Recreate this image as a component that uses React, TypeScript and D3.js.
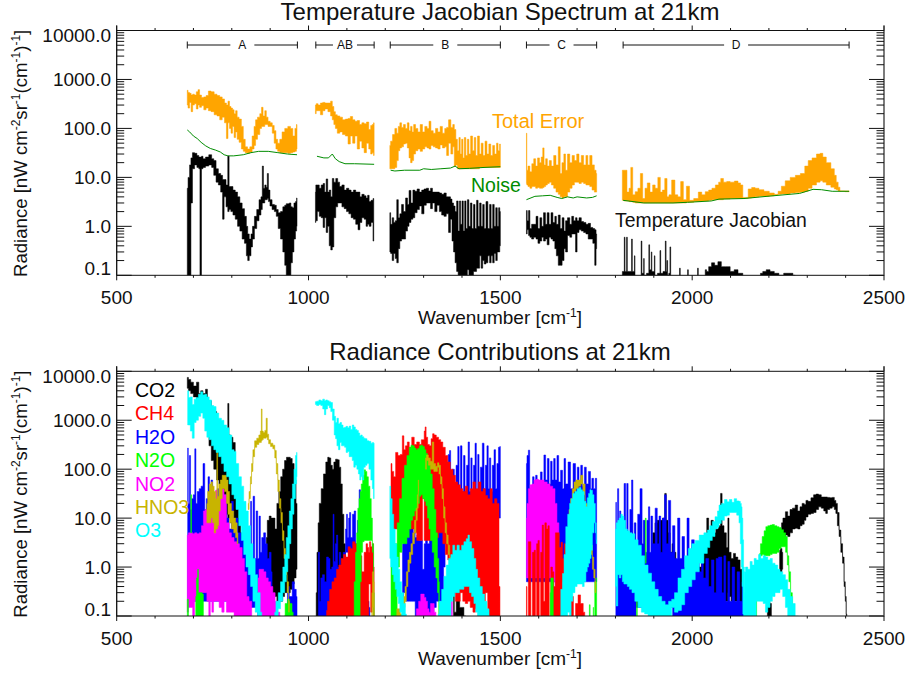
import React from 'react';
import * as d3 from 'd3';

type Row = [number, number, number]; // wavenumber, lower envelope, upper envelope

const xMajor = [500, 1000, 1500, 2000, 2500];
const xMinor = [600, 700, 800, 900, 1100, 1200, 1300, 1400, 1600, 1700, 1800, 1900, 2100, 2200, 2300, 2400];
const yLabels = [0.1, 1, 10, 100, 1000, 10000];
const ranges: [string, number, number][] = [['A', 684, 971], ['AB', 1019, 1171], ['B', 1213, 1500], ['C', 1568, 1751], ['D', 1820, 2409]];

// top panel
const errA: Row[] = [[684,300,600],[688,260,540],[692,340,520],[696,220,480],[700,300,500],[705,320,480],[710,250,560],[714,300,620],[718,270,480],[724,290,430],[730,240,440],[736,260,470],[742,230,580],[750,220,560],[758,190,500],[765,180,470],[772,150,440],[778,170,400],[784,130,330],[788,62,300],[792,130,360],[796,100,280],[800,80,260],[804,110,240],[808,65,200],[812,85,230],[816,60,170],[822,52,155],[828,38,110],[832,34,60],[838,32,42],[844,31,38],[850,33,42],[856,38,70],[860,45,110],[864,60,150],[870,75,170],[876,100,200],[879,110,270],[884,110,180],[888,120,230],[892,120,170],[897,110,140],[903,110,130],[908,80,115],[913,50,90],[917,38,60],[922,34,50],[928,32,60],[934,32,85],[942,32,100],[950,31,110],[956,32,100],[962,33,70],[967,34,100],[970,38,120]];
const errAB: Row[] = [[1018,200,300],[1022,230,320],[1028,230,300],[1034,190,330],[1040,230,340],[1046,250,330],[1055,220,330],[1060,180,360],[1064,150,280],[1068,120,220],[1072,100,190],[1078,80,180],[1085,85,170],[1092,75,150],[1100,70,155],[1106,48,160],[1112,70,175],[1118,50,150],[1124,70,140],[1130,38,145],[1136,55,120],[1142,40,130],[1148,32,125],[1154,50,135],[1160,38,95],[1164,30,115],[1168,32,120],[1171,28,130]];
const errB: Row[] = [[1212,15,45],[1216,15,55],[1222,15,75],[1228,16,100],[1232,22,80],[1236,35,110],[1240,40,130],[1245,42,105],[1250,48,120],[1255,50,100],[1260,40,130],[1264,25,90],[1268,20,110],[1272,22,85],[1276,30,120],[1282,35,100],[1288,38,85],[1294,34,120],[1300,38,85],[1306,42,110],[1312,40,100],[1316,38,140],[1322,45,90],[1328,42,80],[1334,40,100],[1340,38,85],[1346,46,110],[1352,40,80],[1358,42,100],[1362,28,105],[1368,50,150],[1374,30,105],[1378,42,120],[1382,17,95],[1386,18,60],[1390,15,35],[1394,15,65],[1397,15,30],[1401,15,60],[1404,15,25],[1408,15,65],[1412,15,28],[1416,15,60],[1420,15,30],[1425,15,70],[1430,15,35],[1434,15,65],[1438,15,28],[1443,15,70],[1448,16,30],[1452,16,50],[1458,16,28],[1462,16,55],[1468,16,30],[1472,16,48],[1478,16,28],[1482,16,45],[1488,16,30],[1492,16,50],[1496,16,35],[1500,16,48]];
const errC: Row[] = [[1568,7.5,80],[1570,7,14],[1574,6.5,17],[1580,6,13],[1584,6.5,19],[1590,6.5,24],[1594,6,17],[1600,6.2,25],[1604,6,20],[1609,6,26],[1612,6.2,40],[1616,6.5,18],[1620,7,24],[1625,7.5,17],[1630,8,22],[1636,7,17],[1642,6,28],[1648,5,18],[1654,4.5,42],[1658,4,12],[1663,3.8,20],[1668,4,30],[1672,4,14],[1678,5,30],[1684,6,20],[1690,7,28],[1696,8,22],[1702,8,30],[1708,7.5,20],[1714,8,28],[1720,7.5,18],[1726,7,28],[1730,7,18],[1736,6.5,28],[1742,5.5,18],[1748,5,14],[1751,5,12]];
const errD: Row[] = [[1818,3.4,14],[1827,3.3,14],[1833,3.3,5],[1838,3.2,6],[1842,3.2,16],[1848,3.1,4.4],[1855,3,5.1],[1862,3,6],[1868,3,12],[1874,3,3.7],[1880,3,6],[1886,3,7.7],[1894,3,5],[1900,3,7],[1907,3,6],[1914,3,10],[1920,3,5],[1925,3,5.5],[1932,3,9.5],[1937,3,4],[1942,3,4.4],[1951,3,8.8],[1959,3,4.4],[1966,3,4],[1974,3,8.2],[1980,3,3.5],[1990,3.1,6.6],[1996,3.1,3.4],[2012,3.2,3.7],[2020,3.2,5],[2030,3.3,4.4],[2038,3.3,5.1],[2048,3.4,5.5],[2055,3.5,6],[2066,3.5,7],[2072,3.5,8],[2077,3.5,9.5],[2086,3.6,8],[2094,3.6,8.2],[2104,3.7,8],[2116,3.7,8.4],[2123,3.7,7.7],[2129,3.7,7],[2135,3.7,3.9],[2142,3.7,3.9],[2150,3.8,5.8],[2160,3.9,6.2],[2168,4,6],[2180,4.1,5.6],[2194,4.1,5.2],[2208,4.2,4.8],[2220,4.4,4.5],[2228,4.5,5.2],[2237,4.6,6.6],[2248,4.6,8.5],[2263,4.8,10],[2275,4.9,11],[2289,5,12],[2298,5.2,17],[2307,6,22],[2318,7,25],[2330,8,30],[2337,8.5,31],[2344,8,26],[2355,7,20],[2368,6.3,15],[2373,5.8,11],[2378,5.6,8],[2383,5.3,6.3],[2387,5.2,5.3],[2409,5.1,5.3]];
const totalError = [errA, errAB, errB, errC, errD];

const noiseA: [number, number][] = [[684,93],[690,85],[700,70],[710,62],[720,52],[732,44],[744,39],[758,36],[770,33],[780,29],[790,27.5],[805,27.5],[830,29],[850,32],[870,34],[895,34],[920,32],[945,30],[970,29]];
const noiseAB: [number, number][] = [[1022,27],[1040,25],[1052,25],[1062,30],[1070,24],[1080,21],[1095,19],[1120,19],[1171,18.5]];
const noiseB: [number, number][] = [[1214,14],[1225,13.5],[1250,14],[1290,14],[1300,15],[1320,14.5],[1345,15],[1370,15.5],[1382,17],[1392,15],[1420,15.3],[1460,16],[1500,16.5]];
const noiseC: [number, number][] = [[1568,3.5],[1590,4.1],[1610,4.2],[1630,4.3],[1648,3.9],[1660,3.7],[1675,4],[1690,3.8],[1700,4],[1725,3.8],[1740,3.9],[1751,4.2]];
const noiseD: [number, number][] = [[1820,3.4],[1874,3],[1950,3],[1988,3.1],[2050,3.3],[2070,3.6],[2135,3.7],[2195,4.1],[2280,4.7],[2315,5.7],[2337,5.6],[2365,5.2],[2409,5.2]];
const noise = [noiseA, noiseAB, noiseB, noiseC, noiseD];

const jacA: Row[] = [[684,0.07,6],[688,0.07,10],[692,0.07,18],[695,3,25],[700,15,32],[706,18,31],[712,16,28],[716,15,26],[718,0.07,26],[720,0.07,26],[722,15,27],[728,16,24],[735,17,26],[745,18,29],[750,16,24],[756,11,22],[762,8,15],[768,7,12],[774,5,11],[778,1.4,9],[782,4,9],[788,2.5,7],[791,2,27],[795,2.2,6.5],[800,2,6.5],[806,1.7,5.5],[812,1.4,5],[818,1,4],[824,0.8,3],[830,0.55,2.3],[836,0.45,1.6],[840,0.25,1],[843,0.2,0.7],[848,0.25,0.55],[852,0.38,0.7],[856,0.55,1],[862,0.9,1.6],[868,1.3,2.2],[874,1.7,3.5],[878,2.2,4],[881,3,17],[884,3,6],[888,3.5,7],[891,3.5,6.3],[894,3.7,12],[897,3.2,5.5],[902,2.6,3.5],[908,2.2,2.8],[914,2,2.7],[918,1.6,2.2],[924,0.9,1.9],[930,0.55,2],[936,0.3,2.5],[940,0.16,2.7],[944,0.09,2.9],[948,0.08,2.9],[952,0.1,3],[956,0.18,2.5],[960,0.3,2.4],[964,0.55,3],[968,0.8,3.2],[970,1,3.8]];
const jacAB: Row[] = [[1018,1.2,5],[1020,1.3,7],[1026,2,7],[1030,1.6,6],[1036,1.5,7],[1040,0.95,7.5],[1044,1.5,5],[1048,0.75,9.3],[1052,1,5],[1056,0.4,5.5],[1060,0.33,4],[1064,0.38,9.5],[1068,1.5,8],[1074,2.5,9.5],[1078,3,8],[1084,3,6.5],[1090,2.5,7],[1096,2.3,5.5],[1102,2,6],[1108,1.8,5.5],[1114,1.5,5],[1120,1.4,5.5],[1126,1.1,5],[1132,0.85,5],[1136,1.2,4],[1142,1.5,4.5],[1148,1.4,4.2],[1152,1,3.8],[1156,1.1,4.3],[1160,1,3.2],[1166,1.2,3.4],[1170,0.5,3.7]];
const jacB: Row[] = [[1212,0.3,1.9],[1216,0.28,1.1],[1220,0.2,1.5],[1224,0.28,1.2],[1228,0.22,1.3],[1232,0.18,3.5],[1236,0.35,1.5],[1240,0.5,1.8],[1245,0.55,2.8],[1250,0.55,2],[1256,0.8,3.8],[1260,1,2.8],[1264,1.2,5.4],[1270,1.4,3],[1274,1.5,5.5],[1280,1.9,5.2],[1286,2.2,5.8],[1292,2.6,5],[1298,1.8,5.5],[1304,2.7,5.8],[1310,3,6],[1316,3,5.3],[1320,2.3,6],[1326,3,5],[1332,2,5],[1338,2.7,5],[1344,2,4.8],[1350,1.7,4.5],[1356,1.6,4.8],[1362,1.8,4],[1368,0.75,4],[1372,1.4,3.6],[1376,0.5,3],[1380,0.3,2.6],[1384,0.18,2],[1388,0.12,3.3],[1392,0.1,0.8],[1395,0.09,3.3],[1398,0.09,1.1],[1402,0.1,3.3],[1405,0.08,0.8],[1409,0.09,3.3],[1412,0.09,0.9],[1416,0.13,3.5],[1420,0.1,1],[1424,0.08,3],[1428,0.09,0.9],[1432,0.12,2.8],[1436,0.12,0.9],[1440,0.14,3.4],[1444,0.14,1],[1448,0.25,3],[1452,0.14,1],[1456,0.2,2.8],[1460,0.17,0.9],[1465,0.18,3.2],[1470,0.25,0.9],[1474,0.18,2.8],[1478,0.25,0.9],[1482,0.18,2.8],[1486,0.28,1],[1490,0.2,2.4],[1494,0.3,1],[1497,0.3,2.4],[1500,0.4,2]];
const jacC: Row[] = [[1568,0.7,2.1],[1572,0.85,1.3],[1575,0.65,2.1],[1579,0.6,0.9],[1584,0.55,1.1],[1590,0.6,1.1],[1596,0.55,1.6],[1600,0.45,0.9],[1606,0.5,1.5],[1610,0.6,1],[1615,0.5,1.9],[1620,0.55,1.1],[1624,0.42,1.9],[1630,0.6,1.1],[1634,0.55,1.9],[1640,0.5,1.2],[1644,0.35,1.6],[1648,0.25,1.1],[1654,0.16,1.7],[1658,0.16,0.9],[1664,0.2,1.5],[1668,0.35,0.8],[1672,0.3,1.3],[1678,0.65,1.5],[1684,0.6,1.1],[1688,0.7,1.6],[1694,0.7,1.3],[1698,0.3,1.5],[1702,0.75,1.3],[1708,0.85,1.5],[1714,0.8,1.25],[1720,0.75,1.2],[1726,0.7,1.1],[1732,0.55,1.15],[1738,0.55,0.95],[1744,0.45,0.9],[1748,0.16,0.85],[1751,0.35,0.7]];
const jacD: Row[] = [[1818,0.07,0.12],[1822,0.07,0.12],[1824,0.07,0.6],[1826,0.07,0.12],[1828,0.07,0.12],[1830,0.07,0.6],[1832,0.07,0.12],[1841,0.07,0.12],[1843,0.07,0.55],[1845,0.07,0.12],[1849,0.07,0.12],[1850,0.07,0.25],[1852,0.07,0.07],[1866,0.07,0.09],[1868,0.07,0.5],[1870,0.07,0.11],[1873,0.07,0.11],[1874,0.07,0.22],[1876,0.07,0.1],[1886,0.07,0.11],[1888,0.07,0.42],[1890,0.07,0.13],[1893,0.07,0.13],[1894,0.07,0.3],[1896,0.07,0.12],[1901,0.07,0.12],[1902,0.07,0.25],[1904,0.07,0.1],[1915,0.07,0.11],[1917,0.07,0.32],[1919,0.07,0.11],[1929,0.07,0.12],[1931,0.07,0.5],[1933,0.07,0.12],[1935,0.07,0.2],[1937,0.07,0.1],[1941,0.07,0.11],[1943,0.07,0.38],[1945,0.07,0.07],[1966,0.07,0.07],[1968,0.07,0.14],[1970,0.07,0.07],[1987,0.07,0.07],[1989,0.07,0.13],[1991,0.07,0.07],[2013,0.07,0.07],[2015,0.07,0.14],[2017,0.07,0.07],[2033,0.07,0.07],[2035,0.07,0.13],[2040,0.07,0.12],[2046,0.07,0.15],[2055,0.07,0.18],[2062,0.07,0.16],[2072,0.07,0.19],[2080,0.07,0.15],[2094,0.07,0.15],[2104,0.07,0.12],[2115,0.07,0.13],[2124,0.07,0.11],[2131,0.07,0.11],[2133,0.07,0.07],[2176,0.07,0.07],[2180,0.07,0.11],[2188,0.07,0.12],[2198,0.07,0.13],[2208,0.07,0.12],[2220,0.07,0.11],[2232,0.07,0.1],[2245,0.07,0.11],[2258,0.07,0.11],[2267,0.07,0.1],[2270,0.07,0.07]];
const jacobian = [jacA, jacAB, jacB, jacC, jacD];

// bottom panel
const co2A: Row[] = [[684,4500,7500],[690,4000,6800],[696,3500,6000],[704,3000,5000],[712,2400,6000],[716,2400,3500],[722,1800,4000],[728,1500,3500],[735,1200,4300],[738,800,2500],[743,300,2500],[750,150,1800],[756,100,1500],[765,60,1000],[768,50,900],[772,40,900],[780,30,700],[788,12,600],[791,10,2200],[794,10,500],[800,8,450],[806,6,350],[812,3,100],[816,2,30],[820,1,10],[826,0.5,5]];
const co2A2: Row[] = [[890,0.3,4],[895,0.25,9],[900,0.3,11],[905,0.25,10],[910,0.3,10],[915,0.25,6],[920,0.2,20],[925,0.2,35],[930,0.2,70],[935,0.25,100],[940,0.3,150],[945,0.3,175],[950,0.3,175],[955,0.35,165],[960,0.45,130],[965,0.6,60],[970,0.9,20]];
const co2AB: Row[] = [[1020,0.1,0.3],[1024,0.1,2],[1026,0.1,8],[1030,0.1,20],[1036,0.12,40],[1042,0.15,80],[1048,0.2,140],[1052,0.25,175],[1056,0.3,170],[1060,0.4,120],[1064,0.5,100],[1068,0.6,140],[1073,0.8,160],[1078,0.8,155],[1082,0.8,110],[1086,0.7,50],[1090,0.8,12],[1094,0.8,3],[1098,0.7,1.5],[1100,0.7,1]];
const co2B: Row[] = [[1378,0.07,0.3],[1382,0.07,0.12],[1388,0.07,0.3],[1400,0.07,0.15],[1410,0.07,0.1]];
const co2D1: Row[] = [[1894,0.1,3],[1900,0.15,5],[1906,0.2,8],[1912,0.25,9],[1920,0.3,9],[1926,0.3,10],[1931,0.3,32],[1934,0.3,9],[1940,0.3,5],[1945,0.3,2],[1950,0.3,3],[1955,0.3,2],[1960,0.2,0.9],[1965,0.2,1.2]];
const co2D2: Row[] = [[1990,0.1,0.3],[2000,0.1,0.5],[2020,0.1,1],[2028,0.15,2],[2036,0.2,4],[2040,0.2,10],[2046,0.2,4],[2052,0.2,9],[2058,0.2,5],[2065,0.2,6],[2072,0.2,7],[2076,0.2,32],[2080,0.2,7],[2086,0.2,5],[2092,0.2,2.5],[2094,0.3,10],[2098,0.25,2],[2105,0.2,1.5],[2110,0.2,1.9],[2116,0.2,1.6],[2122,0.2,1.4],[2128,0.15,0.9],[2134,0.1,0.5]];
const co2D3: Row[] = [[2196,0.07,0.2],[2200,0.07,0.2],[2205,0.07,0.18],[2208,0.07,0.1]];
const co2D4: Row[] = [[2228,0.8,2.2],[2232,0.8,2.4],[2236,0.9,2]];
const co2D5: Row[] = [[2233,5,8],[2240,3.8,10],[2246,4.5,13.5],[2252,4.2,11],[2258,5,15],[2265,6,16],[2272,6.2,18.5],[2278,6,14],[2284,7,17],[2289,7.5,20],[2295,9,19],[2298,10.6,23],[2306,12,22],[2313,12.5,26],[2320,13,30],[2326,15,31],[2333,17,30],[2340,16,27],[2346,14,27],[2350,12.5,27],[2355,15,26.5],[2362,16,26],[2368,17,26.5],[2373,15,23],[2376,12.5,20],[2381,7,13],[2385,4.2,5.7],[2390,2,3],[2394,1.2,1.6],[2398,0.4,0.5],[2400,0.2,0.25],[2403,0.09,0.11]];

const ch4AB: Row[] = [[1047,0.07,0.13],[1052,0.07,0.2],[1058,0.07,0.35],[1064,0.07,0.5],[1070,0.07,0.6],[1076,0.07,0.9],[1082,0.07,1.1],[1088,0.07,1.5],[1094,0.07,1.8],[1100,0.07,1.6],[1106,0.07,2.6],[1112,0.07,2.4],[1118,0.07,3.3],[1124,0.07,3],[1130,0.07,3.5],[1136,0.07,1.7],[1142,0.07,0.8],[1148,0.07,2],[1152,0.1,3],[1156,0.1,2.5],[1158,0.45,2],[1160,0.45,3.3],[1164,0.12,2.6],[1168,0.2,3],[1171,0.1,1]];
const ch4B: Row[] = [[1215,6,130],[1220,6,90],[1224,6,70],[1230,6,220],[1236,6,190],[1242,6,200],[1247,6,480],[1250,6,250],[1255,6,300],[1260,6,360],[1265,6,280],[1273,6,450],[1278,5,320],[1286,3.5,360],[1292,3.5,320],[1296,3.5,400],[1298,25,400],[1300,25,400],[1303,3.5,600],[1305,3.5,730],[1308,3.5,450],[1313,3.5,320],[1317,3.5,300],[1322,3.5,420],[1325,3.5,530],[1330,4,500],[1336,4,450],[1342,5,400],[1347,5,360],[1353,3,280],[1360,1.8,190],[1366,1.4,140],[1373,0.6,100],[1380,0.3,75],[1386,0.2,55],[1392,0.2,48],[1399,0.3,40],[1405,0.2,35],[1412,0.18,45],[1418,0.2,30],[1425,0.15,40],[1432,0.12,55],[1438,0.14,40],[1447,0.1,55],[1452,0.12,35],[1458,0.2,40],[1464,0.3,29],[1470,0.1,25],[1476,0.09,40],[1482,0.07,20],[1488,0.07,25],[1494,0.07,20],[1499,0.07,0.4]];
const ch4C: Row[] = [[1568,0.07,0.4],[1571,0.07,0.07],[1575,0.07,3.3],[1578,0.07,3.3],[1581,0.07,0.07],[1586,0.07,2],[1590,0.07,2.2],[1593,0.07,0.07],[1596,0.07,3],[1600,0.07,3.5],[1603,0.07,0.07],[1607,0.07,2],[1611,0.07,7.2],[1614,0.07,0.2],[1618,0.07,8],[1622,0.07,6],[1626,0.07,7],[1629,0.07,0.07],[1634,0.07,1],[1638,0.07,0.8],[1641,0.07,0.4],[1646,0.07,5],[1651,0.07,5],[1656,0.07,2.5],[1660,0.07,3.2],[1664,0.5,1.5],[1668,0.6,3]];
const ch4C2: Row[] = [[1677,0.07,0.1],[1688,0.07,0.25],[1693,0.07,0.08],[1699,0.07,0.18],[1706,0.07,0.27],[1712,0.07,0.18],[1720,0.07,0.12]];

const h2oA: Row[] = [[685,0.2,270],[688,0.2,20],[691,0.2,190],[694,0.2,15],[697,0.2,25],[702,0.2,30],[705,0.2,260],[708,0.2,20],[712,0.2,35],[718,0.2,40],[722,0.2,45],[728,0.2,130],[731,0.2,15],[736,0.2,25],[740,0.2,70],[744,0.2,12],[748,0.2,60],[752,0.2,10],[756,0.2,12],[760,0.2,20],[764,0.2,40],[768,0.2,12],[772,0.2,45],[776,0.2,10],[780,0.2,15],[784,0.2,30],[790,0.2,10],[796,0.2,6],[802,0.2,22],[806,0.2,8],[812,0.2,10],[820,0.2,5],[830,0.2,4],[848,0.15,1],[850,0.15,22],[853,0.15,1],[858,0.15,28],[861,0.15,1.5],[866,0.15,14],[869,0.1,1.5],[873,0.1,11],[876,0.1,2],[880,0.1,4],[886,0.1,5],[890,0.07,3],[895,0.07,1.5],[900,0.07,2],[905,0.07,0.8]];
const h2oA2: Row[] = [[945,0.07,0.4],[955,0.07,0.25],[960,0.07,0.5],[966,0.07,0.35],[970,0.07,0.25]];
const h2oAB: Row[] = [[1024,0.07,0.1],[1027,0.07,2],[1030,0.07,0.2],[1034,0.07,0.6],[1039,0.07,0.7],[1044,0.07,0.5],[1050,0.07,1.6],[1054,0.07,1.5],[1058,0.07,0.9],[1063,0.3,1],[1065,0.3,12],[1068,0.3,1.3],[1072,0.3,3],[1074,0.3,4.5],[1078,0.3,1],[1082,0.5,2],[1086,0.7,1],[1095,1,2],[1098,2,6],[1100,2,12],[1103,2,4],[1106,2,10],[1108,2,13],[1112,2,4],[1117,2,12],[1121,2,14],[1125,2,3],[1130,3,9],[1134,3,38],[1137,3,10]];
const h2oAB2: Row[] = [[1152,0.07,0.15],[1155,0.07,0.2],[1160,0.07,0.15]];
const h2oB: Row[] = [[1245,0.2,3],[1250,0.3,5],[1256,0.2,6],[1260,0.2,6.2],[1266,0.2,8],[1270,0.2,7],[1276,0.2,5],[1280,0.1,4],[1285,0.1,4.5],[1290,0.1,3.5],[1296,0.1,3.5],[1298,0.1,0.9],[1301,0.1,0.9],[1302,0.1,3],[1308,0.1,4],[1312,0.1,3],[1318,0.1,4],[1324,0.12,4],[1330,0.15,7],[1336,0.2,9],[1340,0.2,8],[1346,0.2,12],[1350,0.3,20],[1354,1,45],[1358,3,150],[1362,3,40],[1366,5,200],[1369,5,240],[1372,8,40],[1378,10,100],[1382,10,35],[1387,10,120],[1391,10,290],[1394,10,35],[1398,10,300],[1402,10,35],[1406,10,190],[1410,10,35],[1414,10,120],[1418,10,360],[1421,10,35],[1425,10,170],[1428,10,35],[1432,10,120],[1436,10,340],[1439,10,35],[1443,10,200],[1446,10,35],[1450,10,110],[1456,10,340],[1459,10,40],[1463,10,120],[1467,10,300],[1470,10,40],[1473,10,170],[1477,10,35],[1481,10,120],[1486,10,250],[1489,10,40],[1493,10,130],[1497,10,280],[1500,10,290]];
const h2oC: Row[] = [[1568,0.5,130],[1571,0.5,190],[1575,0.5,245],[1578,0.5,40],[1582,0.5,30],[1586,0.5,70],[1590,0.5,40],[1594,0.5,75],[1598,0.5,40],[1602,0.5,45],[1607,0.5,88],[1611,0.5,50],[1616,0.5,195],[1620,0.5,60],[1625,0.5,165],[1629,0.5,50],[1633,0.5,145],[1637,0.5,60],[1641,0.5,165],[1645,0.5,60],[1650,0.5,190],[1654,0.5,55],[1660,0.5,95],[1664,0.5,40],[1668,0.5,165],[1672,0.5,50],[1681,0.5,140],[1685,0.5,40],[1694,0.5,130],[1698,0.5,45],[1703,0.5,110],[1707,0.5,50],[1712,0.5,120],[1716,0.5,45],[1722,0.5,110],[1726,0.5,50],[1733,0.5,90],[1737,0.5,40],[1740,0.5,65],[1746,0.5,40],[1749,0.5,65],[1751,0.5,65]];
const h2oD: Row[] = [[1801,0.1,21],[1804,0.1,6],[1807,0.1,40],[1810,0.1,5],[1812,0.1,14],[1816,0.1,4],[1820,0.1,8],[1825,0.1,51],[1828,0.1,4],[1831,0.1,51],[1835,0.1,4],[1840,0.1,15],[1844,0.1,60],[1847,0.1,4],[1851,0.1,8],[1856,0.15,3],[1860,0.15,12],[1868,0.15,40],[1871,0.15,3],[1874,0.2,9],[1880,0.2,2],[1884,0.2,9],[1888,0.2,17],[1891,0.2,2],[1894,0.2,11],[1900,0.2,3],[1907,0.15,16],[1911,0.15,3],[1916,0.15,11],[1920,0.15,2],[1925,0.15,10],[1931,0.15,30],[1934,0.15,3],[1942,0.15,23],[1946,0.15,2],[1952,0.1,7],[1958,0.1,1.5],[1966,0.1,10],[1970,0.1,1.5],[1977,0.1,4.2],[1983,0.1,1],[1990,0.1,10],[1994,0.1,1],[2003,0.1,3.6],[2008,0.07,0.8],[2015,0.07,2],[2022,0.07,0.8],[2027,0.07,4.2],[2031,0.07,0.6],[2040,0.07,1.5],[2046,0.07,0.4],[2054,0.07,1.4],[2060,0.07,0.3],[2065,0.07,1.5],[2072,0.07,1.6],[2075,0.07,1.6],[2080,0.07,0.3],[2085,0.07,1.7],[2090,0.07,0.2],[2096,0.07,1.3],[2100,0.07,0.2],[2108,0.07,1],[2114,0.07,0.2],[2120,0.07,0.8],[2128,0.07,0.2],[2132,0.07,0.5],[2135,0.07,0.2]];

const n2oA: Row[] = [[684,0.07,0.22],[687,0.07,0.22]];
const n2oA2: Row[] = [[693,5,30],[695,5,30]];
const n2oA3: Row[] = [[706,0.07,0.25],[710,0.07,0.6],[712,0.07,0.9],[714,0.07,0.3],[720,0.07,0.3],[726,0.07,0.28]];
const n2oA4: Row[] = [[936,0.07,0.1],[942,0.07,0.18],[948,0.07,0.22],[954,0.07,0.18],[960,0.07,0.12]];
const n2oAB: Row[] = [[1117,0.07,0.1],[1121,0.07,0.5],[1124,0.07,2],[1127,0.07,5],[1130,0.07,16],[1133,0.07,25],[1136,0.5,35],[1139,2,50],[1143,3.3,75],[1147,3.5,97],[1150,3.5,90],[1154,3.5,70],[1158,3.5,45],[1162,3.5,25],[1165,3.5,10],[1168,3,2],[1171,0.1,0.3]];
const n2oB: Row[] = [[1215,0.07,1],[1222,0.07,1.5],[1228,0.07,3],[1234,1,8],[1240,2,25],[1247,3,65],[1253,3,120],[1260,4,190],[1265,6,280],[1269,9,310],[1274,11,300],[1278,14,270],[1282,16,250],[1287,20,265],[1291,28,300],[1295,30,310],[1300,25,290],[1304,22,250],[1308,18,210],[1312,10,170],[1316,6,120],[1320,3.5,80],[1325,2,40],[1330,1,15],[1334,0.6,5],[1338,0.3,1.5],[1341,0.1,0.5]];
const n2oC: Row[] = [[1630,0.07,0.3],[1633,0.07,0.6],[1638,0.07,0.6]];
const n2oC2: Row[] = [[1732,0.07,0.17],[1734,0.07,0.17]];
const n2oC3: Row[] = [[1742,0.07,0.15],[1744,0.07,0.1],[1748,0.07,0.5],[1751,0.07,0.6]];
const n2oD1: Row[] = [[1855,0.07,0.3],[1857,0.07,0.3]];
const n2oD2: Row[] = [[1878,1.2,10],[1880,1.2,10]];
const n2oD3: Row[] = [[2158,0.07,0.12],[2164,0.07,0.3],[2168,0.07,0.2]];
const n2oD4: Row[] = [[2176,1.7,1.9],[2180,1.7,3],[2185,1.8,4.2],[2190,1.7,5.5],[2194,1.7,6.7],[2200,1.7,7],[2206,1.8,7.2],[2211,1.9,7.4],[2218,1.9,7],[2224,2,6.7],[2229,2.4,6.4],[2235,2.6,5.8],[2241,2.6,5],[2246,2,4.2],[2250,1.1,1.7],[2254,0.5,0.8],[2259,0.22,0.3],[2263,0.1,0.12]];

const no2A: Row[] = [[684,0.12,4.5],[690,0.15,5],[696,0.15,5],[700,0.1,4.8],[706,0.2,5],[712,0.3,4.8],[718,0.3,5],[724,0.3,7],[728,0.3,14],[732,0.3,15],[738,0.2,14],[742,0.1,14],[746,0.2,23],[750,0.12,27],[755,0.2,22],[760,0.2,37],[764,0.2,25],[770,0.15,28],[778,0.12,40],[782,0.2,30],[790,0.12,8],[796,0.12,5],[802,0.12,4],[810,0.1,3.3],[816,0.1,3],[824,0.1,2.5],[830,0.1,1.5],[836,0.1,0.8],[842,0.1,0.25],[848,0.07,0.2],[852,0.07,0.2]];
const no2A2: Row[] = [[868,0.07,0.6],[874,0.07,0.9],[880,0.07,0.9],[886,0.07,0.8],[892,0.07,0.6],[898,0.07,0.5],[904,0.07,0.4],[910,0.07,0.3],[916,0.07,0.2],[922,0.07,0.12],[928,0.07,0.1]];
const no2B: Row[] = [[1278,0.07,0.1],[1284,0.07,0.14],[1290,0.07,0.2],[1295,0.07,0.28],[1299,0.07,0.28],[1304,0.07,0.24],[1308,0.07,0.2],[1312,0.07,0.14],[1316,0.07,0.12],[1320,0.07,0.18],[1325,0.07,0.18],[1330,0.07,0.12],[1334,0.07,0.1]];
const no2B2: Row[] = [[1372,0.07,0.2],[1375,0.07,0.2]];
const no2C: Row[] = [[1568,0.6,10],[1571,0.6,20],[1575,0.6,40],[1580,0.6,48],[1585,0.6,50],[1590,0.6,60],[1596,0.6,62],[1603,0.6,60],[1610,0.6,60],[1618,0.6,55],[1626,0.6,50],[1633,0.6,45],[1640,0.5,40],[1645,0.3,20],[1650,0.15,8],[1655,0.1,2],[1660,0.07,0.7],[1664,0.07,0.2]];

const hno3A: Row[] = [[735,8,20],[739,8,35],[744,8,50],[748,10,55],[752,8,45],[756,5,35],[760,6,25],[762,6,300],[764,7,28],[768,14,50],[772,25,60],[778,40,75],[784,35,75],[788,20,60],[792,12,35],[796,8,20],[802,6,14],[808,5,10],[812,4,8],[816,3,5]];
const hno3A2: Row[] = [[843,15,20],[847,25,35],[850,50,70],[853,90,130],[857,180,250],[862,280,380],[868,320,430],[873,350,500],[876,350,600],[878,380,1700],[880,400,600],[884,430,560],[888,430,620],[891,450,1100],[894,400,520],[898,330,400],[904,290,340],[910,260,310],[914,170,240],[918,80,130],[922,35,60],[926,16,25],[930,8,13],[934,3.5,5.5],[938,1.5,2.4],[942,0.7,1.1],[946,0.3,0.5],[950,0.12,0.2]];
const hno3AB: Row[] = [[1165,0.1,0.3],[1168,0.15,0.8],[1171,0.1,0.5]];
const hno3B: Row[] = [[1230,0.07,0.14],[1236,0.07,0.14],[1243,0.07,0.11],[1250,0.15,0.25],[1253,0.2,0.4],[1257,0.4,0.8],[1261,0.8,1.4],[1265,1.2,2],[1269,1.8,3],[1274,3,5],[1278,5,9],[1282,9,16],[1285,16,30],[1287,35,60]];
const hno3B2: Row[] = [[1305,100,170],[1310,150,195],[1315,120,170],[1320,100,145],[1325,100,360],[1328,90,130],[1334,90,115],[1338,110,135],[1342,80,120],[1346,50,70],[1350,25,40],[1354,10,17],[1358,5,8],[1362,3,4.5],[1366,1.8,2.8],[1370,1.2,1.6]];
const hno3C: Row[] = [[1668,0.8,1.4],[1673,1.5,3],[1677,3,6],[1681,8,15],[1685,15,25],[1690,25,40],[1694,35,55],[1700,40,60],[1707,45,60],[1712,50,75],[1718,30,50],[1724,10,20],[1729,3,5],[1734,2.5,4],[1738,1.8,2.8],[1742,0.9,1.6],[1745,0.6,0.9],[1749,0.3,0.5]];

const o3A: Row[] = [[685,800,4000],[690,800,2900],[694,600,3000],[700,430,2100],[704,900,2700],[710,1000,2900],[716,1200,3400],[722,1400,3800],[727,1100,3300],[732,600,3400],[738,450,3000],[744,400,2600],[750,300,2000],[756,250,1900],[762,220,1400],[770,180,1100],[776,130,1000],[783,90,800],[790,70,700],[796,50,500],[804,30,250],[808,25,230],[814,15,130],[822,7,70],[828,3.5,45],[834,1.8,22],[840,1,14],[846,0.7,7],[852,0.4,3],[858,0.2,1.5],[864,0.12,0.7],[870,0.09,0.3],[878,0.07,0.12]];
const o3A2: Row[] = [[912,0.07,0.12],[918,0.1,0.2],[924,0.14,0.3],[930,0.2,0.5],[936,0.3,1],[940,0.5,1.8],[944,0.8,4],[948,1.5,7],[952,3,14],[956,6,25],[960,12,50],[964,25,100],[968,50,190],[970,70,220]];
const o3AB: Row[] = [[1018,2100,2400],[1024,2000,2450],[1030,2100,2600],[1034,2000,2500],[1040,1700,2700],[1043,1300,2500],[1047,1700,2600],[1052,2000,2500],[1056,1800,2400],[1060,1500,2300],[1065,1000,1700],[1069,500,1200],[1072,420,900],[1076,300,1100],[1080,250,850],[1084,350,900],[1088,300,800],[1092,300,700],[1096,280,720],[1100,220,750],[1104,230,700],[1108,180,760],[1112,180,650],[1116,150,800],[1120,110,730],[1124,120,650],[1128,100,620],[1132,80,550],[1135,60,480],[1138,70,500],[1142,60,460],[1146,110,430],[1150,120,420],[1155,130,380],[1160,100,370],[1165,60,340],[1168,40,350],[1171,25,340]];
const o3B: Row[] = [[1212,1.5,45],[1216,1,25],[1220,0.7,12],[1224,0.5,6],[1228,0.35,3],[1232,0.25,1.6],[1236,0.18,0.9],[1240,0.12,0.5],[1245,0.09,0.3],[1250,0.07,0.18],[1255,0.07,0.11]];
const o3B2: Row[] = [[1338,0.07,0.11],[1344,0.07,0.2],[1350,0.07,0.35],[1356,0.07,0.65],[1362,0.07,1.1],[1368,0.07,1.5],[1374,0.2,1.8],[1378,0.25,2.8],[1384,0.3,2.2],[1390,0.3,2.8],[1396,0.35,2.2],[1402,0.35,2.8],[1408,0.4,3.3],[1414,0.4,3.8],[1417,0.4,4.5],[1422,0.3,3.3],[1428,0.25,2.4],[1434,0.18,1.5],[1438,0.12,0.9],[1443,0.1,0.6],[1450,0.07,0.4],[1456,0.07,0.28],[1462,0.07,0.2],[1468,0.07,0.14],[1473,0.07,0.1]];
const o3C: Row[] = [[1655,0.07,0.1],[1660,0.07,0.35],[1664,0.07,0.74],[1668,0.07,1.8],[1673,0.1,6.7],[1678,0.12,12],[1683,0.1,20],[1686,0.2,25],[1692,0.3,32],[1697,0.4,35],[1703,0.45,40],[1708,0.45,42],[1712,0.45,38],[1716,0.4,35],[1721,0.5,22],[1725,0.8,17],[1728,1,26],[1732,1.2,32],[1735,1.5,38],[1738,2.2,37],[1742,5,30],[1746,8,20],[1749,5,8],[1751,3,3.6]];
const o3D: Row[] = [[1800,0.4,6],[1804,0.16,8],[1808,0.7,9],[1812,0.6,10],[1816,0.7,12],[1820,0.5,11],[1824,0.45,9],[1829,0.45,6],[1833,0.4,5.5],[1840,0.35,5],[1846,0.3,4.8],[1855,0.2,3.6],[1863,0.15,2.8],[1872,0.12,1.7],[1880,0.11,1.1],[1890,0.1,0.75],[1898,0.09,0.5],[1907,0.08,0.35],[1916,0.08,0.25],[1925,0.08,0.2],[1934,0.08,0.17],[1943,0.08,0.2],[1950,0.15,0.22],[1958,0.12,0.3],[1968,0.13,0.6],[1976,0.17,0.9],[1985,0.3,1.7],[1995,0.4,2.4],[2003,0.55,3],[2013,0.8,3.5],[2024,1.2,4.5],[2037,1.9,5],[2042,2.5,5.7],[2050,3.5,7],[2055,4.2,8.5],[2064,6,10.7],[2068,6.5,14],[2072,7.8,18.5],[2080,9,20],[2088,11,24],[2094,11.5,21.5],[2100,13,24],[2107,13,21],[2112,13,25],[2120,11.5,22.5],[2124,8,22],[2127,3,20],[2129,1,17],[2131,0.4,10],[2133,0.11,3.6],[2135,0.09,1],[2137,0.07,0.3]];
const o3D2: Row[] = [[2136,0.07,0.8],[2142,0.07,1],[2148,0.07,0.9],[2154,0.07,1.3],[2159,0.07,1.1],[2164,0.1,1.5],[2170,0.2,1.4],[2176,0.2,1.8],[2182,0.2,1.5],[2188,0.18,1.7],[2194,0.12,1.6],[2200,0.15,1.4],[2206,0.2,1.5],[2212,0.25,1.2],[2220,0.3,1.1],[2226,0.3,0.9],[2232,0.35,0.8],[2240,0.25,0.7],[2246,0.15,0.55],[2252,0.1,0.35],[2259,0.08,0.25],[2265,0.07,0.18],[2272,0.07,0.1],[2277,0.07,0.1]];

const gases: { name: string; color: string; bands: Row[][] }[] = [
    { name: 'CO2', color: '#000000', bands: [co2A, co2A2, co2AB, co2B, co2D1, co2D2, co2D3, co2D4, co2D5] },
    { name: 'CH4', color: '#ff0000', bands: [ch4AB, ch4B, ch4C, ch4C2] },
    { name: 'H2O', color: '#0000ff', bands: [h2oA, h2oA2, h2oAB, h2oAB2, h2oB, h2oC, h2oD] },
    { name: 'N2O', color: '#00ff00', bands: [n2oA, n2oA2, n2oA3, n2oA4, n2oAB, n2oB, n2oC, n2oC2, n2oC3, n2oD1, n2oD2, n2oD3, n2oD4] },
    { name: 'NO2', color: '#ff00ff', bands: [no2A, no2A2, no2B, no2B2, no2C] },
    { name: 'HNO3', color: '#c8b400', bands: [hno3A, hno3A2, hno3AB, hno3B, hno3B2, hno3C] },
    { name: 'O3', color: '#00ffff', bands: [o3A, o3A2, o3AB, o3B, o3B2, o3C, o3D, o3D2] },
];
const drawOrder = ['CO2', 'H2O', 'NO2', 'CH4', 'N2O', 'HNO3', 'O3'];

const font = 'Liberation Sans, Arial, Helvetica, sans-serif';
const ink = '#111';
const xLeft = 116.7;
const xRight = 884;
const x = d3.scaleLinear().domain([500, 2500]).range([xLeft, xRight]);

function Panel({ id, top, bottom, title, children }: { id: string; top: number; bottom: number; title: string; children: (y: d3.ScaleLogarithmic<number, number>) => React.ReactNode }) {
    const y = d3.scaleLog().domain([0.1, 10000]).range([bottom, top]);
    const minors = y.ticks().filter(t => !yLabels.includes(t));
    const fmt = (v: number) => v.toFixed(1);
    const labelShift = (v: number) => (v === 0.1 ? -7.5 : v === 10000 ? 4.5 : 0);
    return (
        <g fontFamily={font} fill={ink}>
            <clipPath id={id}><rect x={xLeft} y={top} width={xRight - xLeft} height={bottom - top} /></clipPath>
            <g clipPath={`url(#${id})`}>{children(y)}</g>
            <rect x={xLeft} y={top} width={xRight - xLeft} height={bottom - top} fill="none" stroke={ink} strokeWidth={1} />
            <line x1={xRight} x2={xRight} y1={top - 5} y2={bottom} stroke="#777" strokeWidth={1.4} />
            <line x1={xLeft} x2={xLeft} y1={top - 5} y2={bottom} stroke={ink} strokeWidth={1} />
            {xMajor.map(t => (
                <g key={t} stroke={ink}>
                    <line x1={x(t)} x2={x(t)} y1={top} y2={top - 5} />
                    <line x1={x(t)} x2={x(t)} y1={bottom} y2={bottom + 5} />
                </g>
            ))}
            {xMinor.map(t => (
                <g key={t} stroke={ink}>
                    <line x1={x(t)} x2={x(t)} y1={top} y2={top - 2.5} />
                    <line x1={x(t)} x2={x(t)} y1={bottom} y2={bottom + 2.5} />
                </g>
            ))}
            {yLabels.map(t => (
                <g key={t} stroke={ink}>
                    <line x1={xLeft} x2={xLeft + 15} y1={y(t)} y2={y(t)} />
                    <line x1={xRight} x2={xRight - 15} y1={y(t)} y2={y(t)} />
                </g>
            ))}
            {minors.map(t => (
                <g key={t} stroke={ink}>
                    <line x1={xLeft} x2={xLeft + 7.5} y1={y(t)} y2={y(t)} />
                    <line x1={xRight} x2={xRight - 7.5} y1={y(t)} y2={y(t)} />
                </g>
            ))}
            {yLabels.map(t => (
                <text key={t} x={111} y={y(t) + labelShift(t) + 7} textAnchor="end" fontSize="19">{fmt(t)}</text>
            ))}
            {xMajor.map(t => (
                <text key={t} x={x(t)} y={bottom + 29} textAnchor="middle" fontSize="19">{t}</text>
            ))}
            <text x={500} y={top - 11} textAnchor="middle" fontSize="24">{title}</text>
            <text x={500} y={bottom + 49} textAnchor="middle" fontSize="19">
                Wavenumber [cm<tspan dy={-7} fontSize="12">-1</tspan><tspan dy={7}>]</tspan>
            </text>
            <text transform={`translate(27,${(top + bottom) / 2 + 0.5}) rotate(-90)`} textAnchor="middle" fontSize="18.6">
                Radiance [nW cm<tspan dy={-7} fontSize="12">-2</tspan><tspan dy={7}>sr</tspan>
                <tspan dy={-7} fontSize="12">-1</tspan><tspan dy={7}>(cm</tspan>
                <tspan dy={-7} fontSize="12">-1</tspan><tspan dy={7}>)</tspan>
                <tspan dy={-7} fontSize="12">-1</tspan><tspan dy={7}>]</tspan>
            </text>
        </g>
    );
}

const bandPath = (y: d3.ScaleLogarithmic<number, number>, rows: Row[]) =>
    d3.area<Row>().curve(d3.curveStep).x(r => x(r[0])).y0(r => y(r[1])).y1(r => y(r[2]))(rows) ?? '';

export default function App() {
    return (
        <svg width={908} height={677} style={{ position: 'absolute', left: 0, top: 0, background: '#fff' }}>
            <Panel id="topClip" top={30.5} bottom={275.3} title="Temperature Jacobian Spectrum at 21km">
                {y => (
                    <>
                        {totalError.map((rows, i) => <path key={i} d={bandPath(y, rows)} fill="#ffa500" stroke="#ffa500" strokeWidth={0.5} />)}
                        {noise.map((pts, i) => (
                            <path key={i} fill="none" stroke="#008c00" strokeWidth={1}
                                d={d3.line<[number, number]>().x(p => x(p[0])).y(p => y(p[1]))(pts) ?? ''} />
                        ))}
                        {jacobian.map((rows, i) => <path key={i} d={bandPath(y, rows)} fill="#000" stroke="#000" strokeWidth={0.5} />)}
                    </>
                )}
            </Panel>
            <Panel id="bottomClip" top={371.3} bottom={616} title="Radiance Contributions at 21km">
                {y => drawOrder.map(name => {
                    const gas = gases.find(g => g.name === name)!;
                    return gas.bands.map((rows, i) => (
                        <path key={name + i} d={bandPath(y, rows)} fill={gas.color} stroke={gas.color} strokeWidth={0.5} />
                    ));
                })}
            </Panel>
            <g fontFamily={font}>
                {ranges.map(([label, a, b]) => {
                    const mid = (x(a) + x(b)) / 2;
                    return (
                        <g key={label} stroke={ink} strokeWidth={1}>
                            <line x1={x(a)} x2={mid - 12} y1={45} y2={45} />
                            <line x1={mid + 12} x2={x(b)} y1={45} y2={45} />
                            <line x1={x(a)} x2={x(a)} y1={41.5} y2={48.5} />
                            <line x1={x(b)} x2={x(b)} y1={41.5} y2={48.5} />
                            <text x={mid} y={49} textAnchor="middle" fontSize="12" fill={ink} stroke="none">{label}</text>
                        </g>
                    );
                })}
                <text x={492} y={128} fontSize="20" fill="#ffa500">Total Error</text>
                <text x={471} y={192} fontSize="19.5" fill="#008c00">Noise</text>
                <text x={615} y={227} fontSize="19.4" fill={ink}>Temperature Jacobian</text>
                {gases.map((g, i) => (
                    <text key={g.name} x={135} y={397 + i * 23.4} fontSize="19.5" fill={g.color}>{g.name}</text>
                ))}
            </g>
        </svg>
    );
}
